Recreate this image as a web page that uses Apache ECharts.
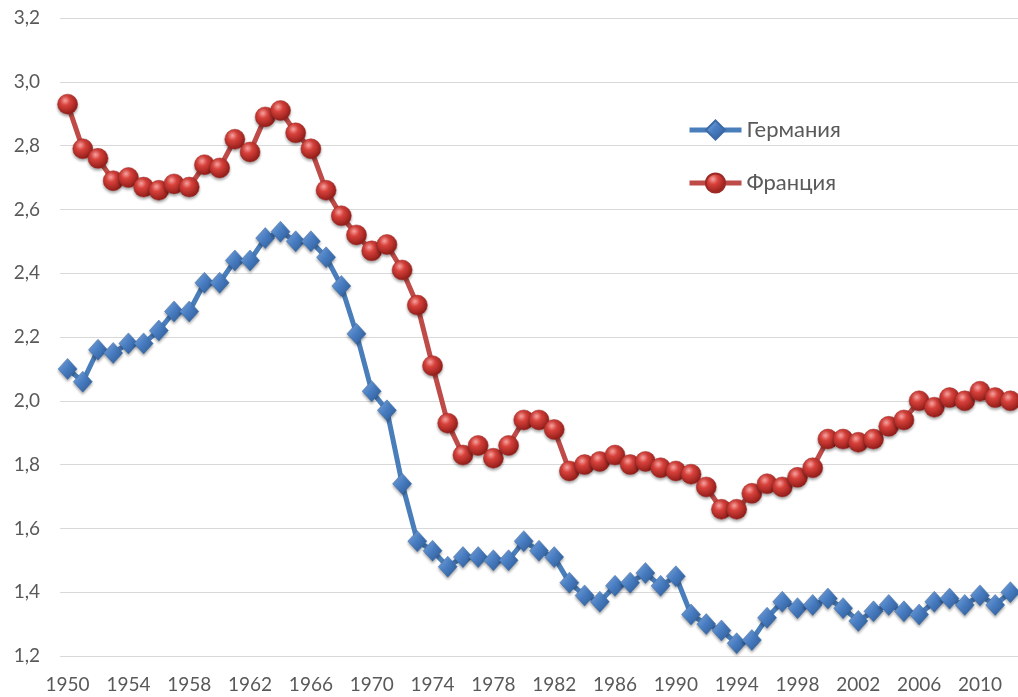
<!DOCTYPE html>
<html>
<head>
<meta charset="utf-8">
<script src="https://cdn.jsdelivr.net/npm/echarts@6/dist/echarts.min.js"></script>
<style>
  html, body { margin: 0; padding: 0; background: #fff; }
  #chart { width: 1018px; height: 697px; }
</style>
</head>
<body>
<div id="chart"></div>
<script>
// годы
var years = [
  '1950', '1951', '1952', '1953', '1954', '1955', '1956', '1957', '1958', '1959',
  '1960', '1961', '1962', '1963', '1964', '1965', '1966', '1967', '1968', '1969',
  '1970', '1971', '1972', '1973', '1974', '1975', '1976', '1977', '1978', '1979',
  '1980', '1981', '1982', '1983', '1984', '1985', '1986', '1987', '1988', '1989',
  '1990', '1991', '1992', '1993', '1994', '1995', '1996', '1997', '1998', '1999',
  '2000', '2001', '2002', '2003', '2004', '2005', '2006', '2007', '2008', '2009',
  '2010', '2011', '2012'
];

var germany = [
  2.10, 2.06, 2.16, 2.15, 2.18, 2.18, 2.22, 2.28, 2.28, 2.37,
  2.37, 2.44, 2.44, 2.51, 2.53, 2.50, 2.50, 2.45, 2.36, 2.21,
  2.03, 1.97, 1.74, 1.56, 1.53, 1.48, 1.51, 1.51, 1.50, 1.50,
  1.56, 1.53, 1.51, 1.43, 1.39, 1.37, 1.42, 1.43, 1.46, 1.42,
  1.45, 1.33, 1.30, 1.28, 1.24, 1.25, 1.32, 1.37, 1.35, 1.36,
  1.38, 1.35, 1.31, 1.34, 1.36, 1.34, 1.33, 1.37, 1.38, 1.36,
  1.39, 1.36, 1.40
];

var france = [
  2.93, 2.79, 2.76, 2.69, 2.70, 2.67, 2.66, 2.68, 2.67, 2.74,
  2.73, 2.82, 2.78, 2.89, 2.91, 2.84, 2.79, 2.66, 2.58, 2.52,
  2.47, 2.49, 2.41, 2.30, 2.11, 1.93, 1.83, 1.86, 1.82, 1.86,
  1.94, 1.94, 1.91, 1.78, 1.80, 1.81, 1.83, 1.80, 1.81, 1.79,
  1.78, 1.77, 1.73, 1.66, 1.66, 1.71, 1.74, 1.73, 1.76, 1.79,
  1.88, 1.88, 1.87, 1.88, 1.92, 1.94, 2.00, 1.98, 2.01, 2.00,
  2.03, 2.01, 2.00
];

var seriesNames = ['Германия', 'Франция'];

var chart = echarts.init(document.getElementById('chart'));

var blueMarker = new echarts.graphic.LinearGradient(0, 0, 1, 1, [
  {offset: 0, color: '#8cb4e6'},
  {offset: 0.45, color: '#4a7fc4'},
  {offset: 1, color: '#2a5690'}
]);
var redMarker = new echarts.graphic.RadialGradient(0.38, 0.32, 0.7, [
  {offset: 0, color: '#f6a3a0'},
  {offset: 0.35, color: '#d8413b'},
  {offset: 1, color: '#8e1b17'}
]);

var option = {
  animation: false,
  textStyle: { fontFamily: 'Lato' },
  grid: {
    left: 60,
    top: 18,
    width: 961,
    bottom: 41
  },
  legend: {
    orient: 'vertical',
    left: 682,
    top: 114,
    itemWidth: 52,
    itemHeight: 24,
    itemGap: 31,
    lineStyle: { width: 5 },
    textStyle: { fontSize: 22, color: '#595959', fontFamily: 'Lato' },
    data: seriesNames
  },
  xAxis: {
    type: 'category',
    boundaryGap: true,
    data: years,
    axisLine: { show: false },
    axisTick: { show: false },
    axisLabel: {
      interval: 3,
      fontSize: 19,
      color: '#595959',
      margin: 19
    }
  },
  yAxis: {
    type: 'value',
    min: 1.2,
    max: 3.2,
    interval: 0.2,
    axisLine: { show: false },
    axisTick: { show: false },
    splitLine: { lineStyle: { color: '#d9d9d9', width: 1 } },
    axisLabel: {
      fontSize: 19,
      color: '#595959',
      margin: 20,
      formatter: function (v) { return v.toFixed(1).replace('.', ','); }
    }
  },
  series: [
    {
      name: seriesNames[0],
      type: 'line',
      data: germany,
      showAllSymbol: true,
      symbol: 'diamond',
      symbolSize: [19, 21],
      lineStyle: { color: '#4a7ebb', width: 5 },
      itemStyle: {
        color: blueMarker,
        borderColor: '#3b6aa6',
        borderWidth: 0.5,
        shadowBlur: 3,
        shadowColor: 'rgba(0,0,0,0.35)',
        shadowOffsetY: 2
      }
    },
    {
      name: seriesNames[1],
      type: 'line',
      data: france,
      showAllSymbol: true,
      symbol: 'circle',
      symbolSize: 20,
      lineStyle: { color: '#be4b48', width: 5 },
      itemStyle: {
        color: redMarker,
        borderColor: '#9c2a26',
        borderWidth: 0.5,
        shadowBlur: 3,
        shadowColor: 'rgba(0,0,0,0.35)',
        shadowOffsetY: 2
      }
    }
  ]
};

chart.setOption(option);
</script>
</body>
</html>
